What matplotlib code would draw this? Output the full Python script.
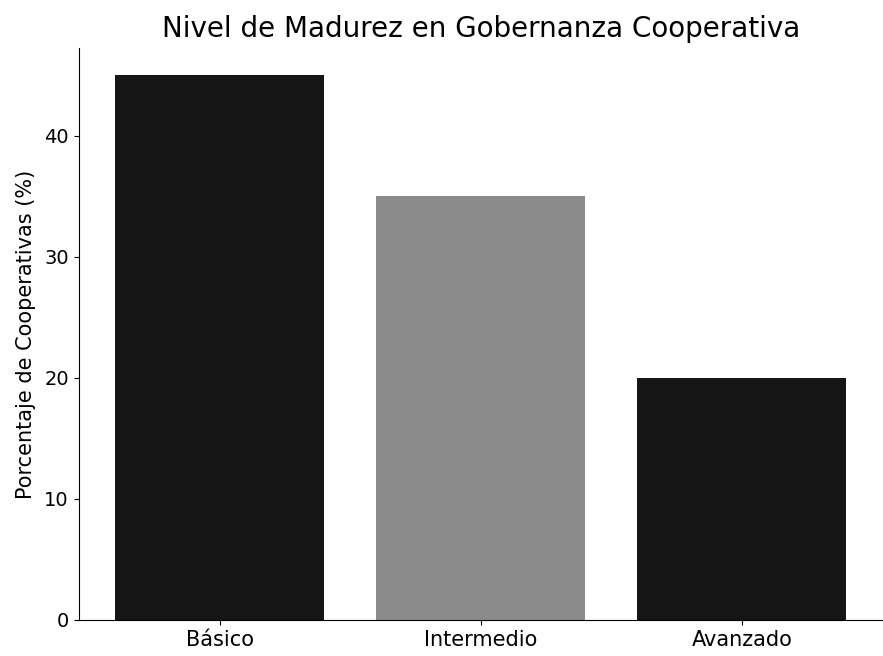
import matplotlib
matplotlib.use("Agg")
import matplotlib.pyplot as plt

categories = ["Básico", "Intermedio", "Avanzado"]
percentages = [45, 35, 20]
bar_colors = ["#151515", "#8a8a8a", "#151515"]

fig = plt.figure(figsize=(8.83, 6.56), dpi=100)
ax = fig.add_axes([0.089, 0.055, 0.911, 0.872])
ax.bar(categories, percentages, color=bar_colors, width=0.8)
ax.set_xlim(-0.54, 2.54)
ax.set_ylim(0, 47.25)
ax.set_yticks([0, 10, 20, 30, 40])
ax.tick_params(axis="x", labelsize=15)
ax.tick_params(axis="y", labelsize=14)
ax.set_ylabel("Porcentaje de Cooperativas (%)", fontsize=15, labelpad=6)
ax.set_title("Nivel de Madurez en Gobernanza Cooperativa", fontsize=20, pad=8)
ax.spines["top"].set_visible(False)
ax.spines["right"].set_visible(False)

fig.savefig("out.png", dpi=100)
